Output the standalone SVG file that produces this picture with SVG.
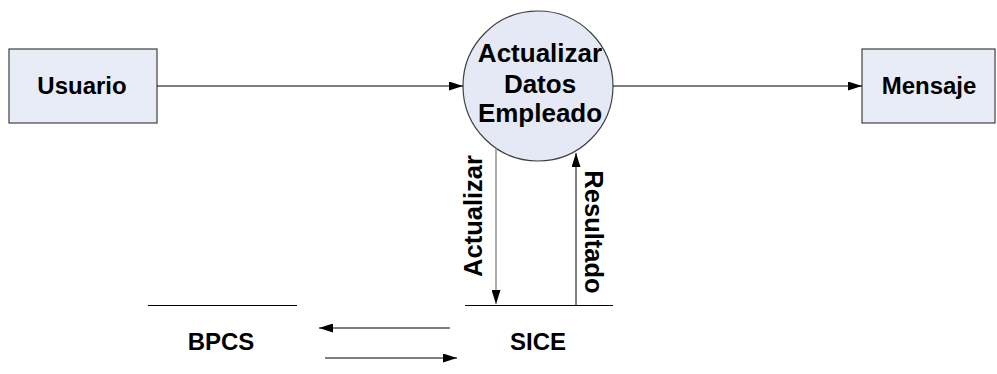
<svg xmlns="http://www.w3.org/2000/svg" width="997" height="374" viewBox="0 0 997 374">
<style>
.box{fill:#e8ecf7;stroke:#404040;stroke-width:1.2}
.t{font-family:"Liberation Sans",Arial,sans-serif;font-weight:bold;font-size:24px;fill:#000;text-anchor:middle}
.c{font-size:26px}
.s{font-size:24px}
.r{font-size:25.5px}
.ln{stroke:#000;stroke-width:1;fill:none}
.g{stroke:#7f7f7f;stroke-width:1.3;fill:none}
</style>
<defs>
<marker id="ah" viewBox="0 0 14 9" refX="14" refY="4.5" markerWidth="14" markerHeight="9" markerUnits="userSpaceOnUse" orient="auto">
<path d="M0,0 L14,4.5 L0,9 z" fill="#000"/>
</marker>
</defs>
<rect width="997" height="374" fill="#fff"/>
<g id="usuario">
<rect class="box" x="9" y="49" width="148" height="74"/>
<text class="t" x="82" y="94">Usuario</text>
</g>
<g id="proceso">
<circle cx="538" cy="86" r="75" fill="#e4e9f5" stroke="#404040" stroke-width="1.2"/>
<text class="t c" x="540" y="62">Actualizar</text>
<text class="t c" x="540" y="93">Datos</text>
<text class="t c" x="540" y="122">Empleado</text>
</g>
<g id="mensaje">
<rect class="box" x="862" y="49" width="133" height="74"/>
<text class="t" x="929" y="94">Mensaje</text>
</g>
<g id="sice">
<line class="ln" x1="465" y1="305.5" x2="613" y2="305.5"/>
<text class="t s" x="538" y="350">SICE</text>
</g>
<g id="bpcs">
<line class="ln" x1="148" y1="305.5" x2="297" y2="305.5"/>
<text class="t s" x="221" y="350">BPCS</text>
</g>
<g id="connectors">
<line class="ln" x1="157" y1="86" x2="463" y2="86" marker-end="url(#ah)"/>
<line class="ln" x1="613" y1="86" x2="862" y2="86" marker-end="url(#ah)"/>
<line class="g" x1="496" y1="148" x2="496" y2="304" marker-end="url(#ah)"/>
<line class="ln" x1="576" y1="305" x2="576" y2="153" marker-end="url(#ah)"/>
<line class="ln" x1="450" y1="328" x2="319" y2="328" marker-end="url(#ah)"/>
<line class="ln" x1="325" y1="358" x2="457" y2="358" marker-end="url(#ah)"/>
<text class="t r" transform="translate(482,216) rotate(-90)">Actualizar</text>
<text class="t r" transform="translate(585,232) rotate(90)">Resultado</text>
</g>
</svg>
